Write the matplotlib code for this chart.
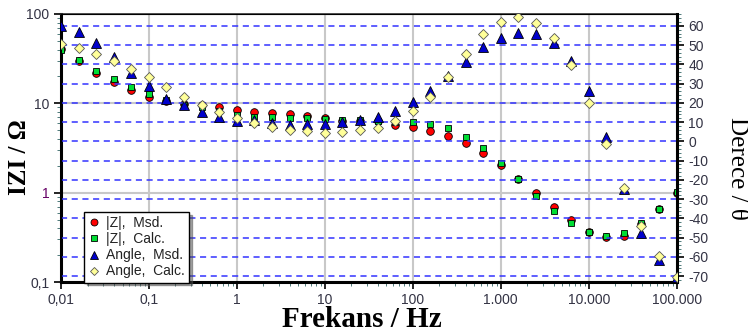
import numpy as np
import matplotlib.pyplot as plt
from matplotlib.ticker import FixedLocator, FixedFormatter, MultipleLocator, LogLocator, NullFormatter
from matplotlib.lines import Line2D

# frekans noktalari: 0,01 Hz - 100 kHz, dekat basina 5 nokta
frekans = [0.01, 0.0158, 0.0251, 0.0398, 0.0631, 0.1, 0.158, 0.251, 0.398, 0.631,
           1, 1.58, 2.51, 3.98, 6.31, 10, 15.8, 25.1, 39.8, 63.1,
           100, 158, 251, 398, 631, 1000, 1580, 2510, 3980, 6310,
           10000, 15800, 25100, 39800, 63100, 100000]

z_msd = [41, 29.8, 21.9, 17.3, 14.1, 11.8, 10.6, 9.9, 9.6, 9.1,
         8.4, 8.0, 7.8, 7.6, 7.2, 6.8, 6.3, 6.4, 6.3, 5.7,
         5.5, 4.9, 4.3, 3.6, 2.8, 2.05, 1.42, 1.0, 0.69, 0.49,
         0.36, 0.32, 0.33, 0.45, 0.65, 1.0]
z_calc = [39.5, 30.5, 23, 18.7, 15.2, 12.7, 10.9, 9.6, 9.1, 8.2,
          7.4, 7.0, 7.0, 6.8, 6.8, 6.7, 6.5, 6.5, 6.3, 6.2,
          6.2, 5.9, 5.3, 4.2, 3.15, 2.15, 1.42, 0.93, 0.62, 0.46,
          0.363, 0.327, 0.355, 0.46, 0.656, 1.02]
aci_msd = [60, 56.9, 51.2, 43.9, 35.6, 28.8, 22, 18.9, 15.3, 12.7,
           10.6, 11, 9.5, 8.5, 9, 9, 10, 11.1, 12.7, 15.8,
           20.5, 26.2, 34, 41.3, 49, 53.8, 56.4, 55.8, 51.2, 41.8,
           26.2, 2.3, -24.5, -47.6, -61.7, -70.5]
aci_calc = [50.6, 48.6, 45.4, 41.8, 37.6, 33.5, 28.3, 23.1, 18.9, 15.3,
            12.2, 9.5, 7.5, 5.9, 5.4, 4.4, 4.9, 5.9, 7, 10.6,
            15.8, 23.1, 33.5, 45.4, 55.8, 62, 64.7, 61.6, 53.8, 39.7,
            20, -1.4, -24.2, -44, -59.6, -70.5]

x_ticks = [0.01, 0.1, 1, 10, 100, 1000, 10000, 100000]
x_labels = ['0,01', '0,1', '1', '10', '100', '1.000', '10.000', '100.000']
y_ticks = [0.1, 1, 10, 100]
y_labels = ['0,1', '1', '10', '100']

plt.rcParams['font.family'] = 'Liberation Sans'
plt.rcParams['axes.unicode_minus'] = False
tick_col = '#333344'

fig = plt.figure(figsize=(7.48, 3.33), dpi=100)
ax = fig.add_axes([0.0816, 0.153, 0.823, 0.805])
ax.set_xscale('log')
ax.set_yscale('log')
ax.set_xlim(0.01, 100000)
ax.set_ylim(0.1, 100)

ax.xaxis.set_major_locator(FixedLocator(x_ticks))
ax.xaxis.set_major_formatter(FixedFormatter(x_labels))
ax.xaxis.set_minor_locator(LogLocator(base=10, subs=np.arange(2, 10), numticks=20))
ax.xaxis.set_minor_formatter(NullFormatter())
ax.yaxis.set_major_locator(FixedLocator(y_ticks))
ax.yaxis.set_major_formatter(FixedFormatter(y_labels))
ax.yaxis.set_minor_locator(LogLocator(base=10, subs=np.arange(2, 10), numticks=20))
ax.yaxis.set_minor_formatter(NullFormatter())

ax.grid(True, which='major', color='#c8c8c8', lw=1.5, zorder=0)
ax.tick_params(axis='both', which='major', labelsize=10, colors='k', labelcolor=tick_col,
               length=5, width=1.2, direction='out')
ax.tick_params(axis='x', which='major', pad=3)
ax.tick_params(axis='y', which='minor', length=3, color='#336666')
ax.tick_params(axis='x', which='minor', length=3, color='#336666')
ax.get_yticklabels()[1].set_color('#660066')

for s in ['left', 'bottom']:
    ax.spines[s].set_linewidth(2.2)
ax.spines['top'].set_linewidth(1.2)
ax.spines['top'].set_color('#333333')

ax2 = ax.twinx()
ax2.set_ylim(-73.1, 66.2)
ax2.yaxis.set_major_locator(FixedLocator(list(range(-70, 61, 10))))
ax2.yaxis.set_minor_locator(MultipleLocator(2))
ax2.tick_params(axis='y', which='major', labelsize=10, labelcolor=tick_col, length=5, width=1.2)
ax2.tick_params(axis='y', which='minor', length=3, color='#336666')
ax2.spines['right'].set_linewidth(2.2)
for a in range(-70, 61, 10):
    ax2.axhline(a, color='#3333ff', lw=1.1, ls=(0, (4, 3)), zorder=0)

ax.plot(frekans, z_msd, 'o', ms=5.5, mfc='#ff0000', mec='k', mew=0.6, zorder=3)
ax.plot(frekans, z_calc, 's', ms=5, mfc='#00dd33', mec='k', mew=0.6, zorder=4)
ax2.plot(frekans, aci_msd, '^', ms=7, mfc='#0000cc', mec='k', mew=0.6, zorder=3)
ax2.plot(frekans, aci_calc, 'D', ms=5, mfc='#ffff99', mec='#555555', mew=0.6, zorder=4)

handles = [
    Line2D([], [], ls='', marker='o', ms=5, mfc='#ff0000', mec='k', mew=0.6),
    Line2D([], [], ls='', marker='s', ms=4.5, mfc='#00dd33', mec='k', mew=0.6),
    Line2D([], [], ls='', marker='^', ms=6, mfc='#0000cc', mec='k', mew=0.6),
    Line2D([], [], ls='', marker='D', ms=4.5, mfc='#ffff99', mec='#555555', mew=0.6),
]
labels = ['|Z|,  Msd.', '|Z|,  Calc.', 'Angle,  Msd.', 'Angle,  Calc.']
leg = ax2.legend(handles, labels, loc='upper left', bbox_to_anchor=(0.026, 0.287),
                 fontsize=10, frameon=True, fancybox=False, shadow=True,
                 handlelength=0.8, handletextpad=0.5, labelspacing=0.15,
                 borderpad=0.3, labelcolor='#222222')
leg.get_frame().set_edgecolor('k')
leg.get_frame().set_linewidth(1.0)

fig.text(362 / 748, 1 - 327 / 333, 'Frekans / Hz', family='Liberation Serif',
         fontweight='bold', fontsize=21, ha='center', va='baseline')
fig.text(20 / 748, 1 - 157 / 333, 'IZI / Ω', family='Liberation Serif',
         fontweight='bold', fontsize=18, rotation=90, ha='center', va='center')
fig.text(737 / 748, 1 - 168 / 333, 'Derece / θ', family='Liberation Serif',
         fontsize=18, rotation=270, ha='center', va='center')

fig.savefig('out.png', dpi=100)
